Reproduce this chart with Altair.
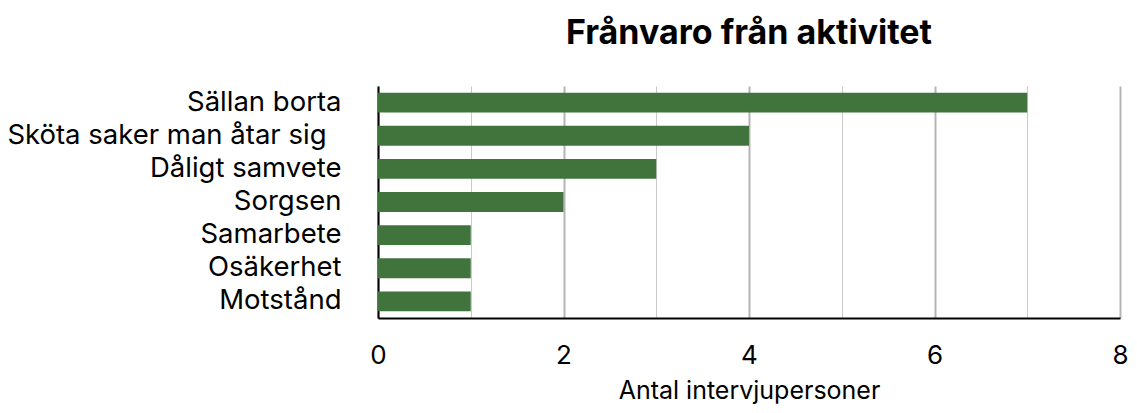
import altair as alt
import pandas as pd

categories = ["Sällan borta", "Sköta saker man åtar sig", "Dåligt samvete", "Sorgsen",
              "Samarbete", "Osäkerhet", "Motstånd"]
values = [7, 4, 3, 2, 1, 1, 1]
x_ticks = [0, 1, 2, 3, 4, 5, 6, 7, 8]

df = pd.DataFrame({"kategori": categories, "antal": values})

FONT = "Inter"

chart = alt.Chart(df).mark_bar(color="#40743C").encode(
    x=alt.X("antal:Q",
            scale=alt.Scale(domain=[0, 8], nice=False),
            axis=alt.Axis(
                title="Antal intervjupersoner",
                values=x_ticks,
                labelExpr="datum.value % 2 === 0 ? datum.label : ''",
                grid=True,
                gridColor={"condition": {"test": "datum.value % 2 === 0", "value": "#b4b4b4"},
                           "value": "#cacaca"},
                gridWidth={"condition": {"test": "datum.value % 2 === 0", "value": 2},
                           "value": 1},
                ticks=False,
                domainColor="black",
                domainWidth=2,
                labelFont=FONT, labelFontSize=26, labelColor="black",
                labelPadding=24,
                titleFont=FONT, titleFontSize=25, titleFontWeight="normal", titleColor="black",
                titlePadding=10,
                labelFlush=False,
            )),
    y=alt.Y("kategori:N", sort=categories,
            scale=alt.Scale(paddingInner=0.4, paddingOuter=0.2),
            axis=alt.Axis(
                title=None, ticks=False, grid=False,
                domainColor="black", domainWidth=2,
                labelFont=FONT, labelFontSize=27.5, labelColor="black",
                labelPadding={"condition": {"test": "datum.value === 'Sköta saker man åtar sig'",
                                            "value": 52},
                              "value": 37},
                labelLimit=400,
            )),
).properties(
    width=742, height=232,
    title=alt.TitleParams("Frånvaro från aktivitet", font=FONT, fontSize=34, fontWeight="bold",
                          anchor="middle", color="black", offset=35),
    padding={"left": 370, "top": 78, "right": 9, "bottom": 87},
    autosize=alt.AutoSizeParams(type="none"),
).configure_view(stroke=None)

chart.save("out.html", embed_options={"renderer": "svg", "actions": False})
